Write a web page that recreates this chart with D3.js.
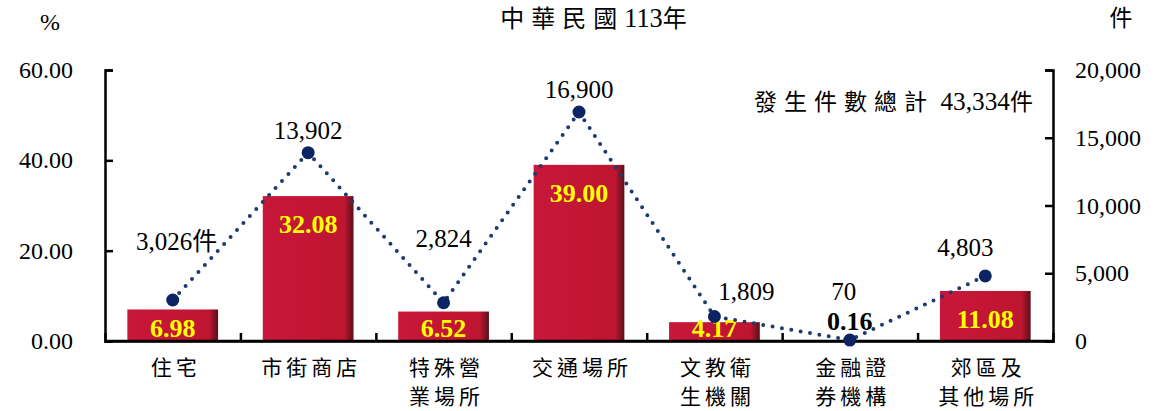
<!DOCTYPE html>
<meta charset="utf-8">
<script src="https://d3js.org/d3.v7.js"></script>
<style>
body { margin: 0; background: #fff; }
svg text { font-family: "Liberation Serif", "Times New Roman", "Noto Sans CJK TC", serif; }
</style>
<div id="chart"></div>
<script>
// data
var places = [["住宅"], ["市街商店"], ["特殊營", "業場所"], ["交通場所"], ["文教衛", "生機關"], ["金融證", "券機構"], ["郊區及", "其他場所"]];
var percents = [6.98, 32.08, 6.52, 39.00, 4.17, 0.16, 11.08];
var counts = [3026, 13902, 2824, 16900, 1809, 70, 4803];
var leftTicks = [0, 20, 40, 60];
var rightTicks = [0, 5000, 10000, 15000, 20000];
var titleParts = ["中華民國", "113", "年"];
var totalParts = ["發生件數總計", " 43,334", "件"];

const W = 1156, H = 411;
const plotL = 105, plotR = 1053, plotT = 70, plotB = 341;

var svg = d3.select("#chart").append("svg")
  .attr("width", W).attr("height", H);

var x = d3.scaleBand().domain(d3.range(places.length)).range([plotL, plotR]).paddingInner(0.33).paddingOuter(0.165);
var xc = d3.scaleBand().domain(d3.range(places.length)).range([plotL, plotR]);
var yL = d3.scaleLinear().domain([0, 60]).range([plotB, plotT]);
var yR = d3.scaleLinear().domain([0, 20000]).range([plotB, plotT]);

// gradient for bars
var defs = svg.append("defs");
var grad = defs.append("linearGradient").attr("id", "barGrad").attr("x1", 0).attr("x2", 1).attr("y1", 0).attr("y2", 0);
grad.append("stop").attr("offset", "0%").attr("stop-color", "#c8173a");
grad.append("stop").attr("offset", "90%").attr("stop-color", "#be1530");
grad.append("stop").attr("offset", "100%").attr("stop-color", "#5a1018");

// bars
svg.append("g").selectAll("rect").data(percents).enter().append("rect")
  .attr("x", (d, i) => x(i))
  .attr("y", d => yL(d))
  .attr("width", x.bandwidth())
  .attr("height", d => plotB - yL(d))
  .attr("fill", "url(#barGrad)");

// axes
var axL = svg.append("g").attr("transform", `translate(${plotL},0)`)
  .call(d3.axisRight(yL).tickValues(leftTicks).tickSize(8).tickFormat(""));
var axR = svg.append("g").attr("transform", `translate(${plotR},0)`)
  .call(d3.axisLeft(yR).tickValues(rightTicks).tickSize(8).tickFormat(""));
var axB = svg.append("g").attr("transform", `translate(0,${plotB})`)
  .call(d3.axisTop(d3.scaleLinear().domain([0, places.length]).range([plotL, plotR]))
    .tickValues(d3.range(1, places.length)).tickSize(8).tickFormat(""));
[axL, axR, axB].forEach(a => {
  a.select(".domain").attr("stroke", "#000").attr("stroke-width", 2.5);
  a.selectAll(".tick line").attr("stroke", "#000").attr("stroke-width", 2.5);
});
svg.append("line").attr("x1", plotL).attr("x2", plotR).attr("y1", plotB).attr("y2", plotB)
  .attr("stroke", "#000").attr("stroke-width", 2.5);

// tick labels
svg.append("g").selectAll("text").data(leftTicks).enter().append("text")
  .attr("x", 73).attr("y", d => yL(d) + 8)
  .attr("text-anchor", "end").attr("font-size", 24)
  .text(d => d.toFixed(2));
svg.append("g").selectAll("text").data(rightTicks).enter().append("text")
  .attr("x", 1075).attr("y", d => yR(d) + 8)
  .attr("font-size", 24)
  .text(d => d3.format(",")(d));

svg.append("text").attr("x", 50).attr("y", 30).attr("text-anchor", "middle").attr("font-size", 24).text("%");
svg.append("text").attr("x", 1121).attr("y", 26).attr("text-anchor", "middle").attr("font-size", 23).text("件");

// mixed text: wide spacing for CJK, tight and larger digits
function mixed(sel, parts) {
  sel.selectAll("tspan").data(parts).enter().append("tspan")
    .attr("letter-spacing", d => /\d/.test(d) ? 0 : 7)
    .attr("font-size", d => /\d/.test(d) ? "1.1em" : null)
    .text(d => d);
}
svg.append("text").attr("x", 597).attr("y", 27).attr("text-anchor", "middle").attr("font-size", 24)
  .call(mixed, titleParts);
svg.append("text").attr("x", 1040).attr("y", 110).attr("text-anchor", "end").attr("font-size", 23)
  .call(mixed, totalParts);

// category labels
var cat = svg.append("g").selectAll("g").data(places).enter().append("g");
cat.each(function(lines, i) {
  d3.select(this).selectAll("text").data(lines).enter().append("text")
    .attr("x", xc(i) + xc.bandwidth() / 2 + 3)
    .attr("y", (d, j) => 375 + j * 29)
    .attr("text-anchor", "middle").attr("font-size", 21).attr("letter-spacing", 4)
    .text(d => d);
});

// bar value labels
svg.append("g").selectAll("text").data(percents).enter().append("text")
  .attr("x", (d, i) => x(i) + x.bandwidth() / 2)
  .attr("y", d => d < 1 ? 330 : Math.min(yL(d) + 37, 337))
  .attr("text-anchor", "middle").attr("font-size", 26).attr("font-weight", "bold")
  .attr("fill", d => d < 1 ? "#000" : "#ffff00")
  .text(d => d.toFixed(2));

// count line
var line = d3.line().x((d, i) => xc(i) + xc.bandwidth() / 2).y(d => yR(d));
svg.append("path").datum(counts).attr("d", line)
  .attr("fill", "none").attr("stroke", "#1f3a6e").attr("stroke-width", 4)
  .attr("stroke-linecap", "round").attr("stroke-dasharray", "0 9.5");
svg.append("g").selectAll("circle").data(counts).enter().append("circle")
  .attr("cx", (d, i) => xc(i) + xc.bandwidth() / 2)
  .attr("cy", d => yR(d))
  .attr("r", 6.5).attr("fill", "#0d2463");

// count labels, placed around the points
var lift = [50, 14, 56, 14, 16, 40, 20];
var shift = [4, 0, 0, 0, 32, -6, -20];
svg.append("g").selectAll("text").data(counts).enter().append("text")
  .attr("x", (d, i) => xc(i) + xc.bandwidth() / 2 + shift[i])
  .attr("y", (d, i) => yR(d) - lift[i])
  .attr("text-anchor", "middle").attr("font-size", 25)
  .text((d, i) => d3.format(",")(d) + (i == 0 ? "件" : ""));
</script>
